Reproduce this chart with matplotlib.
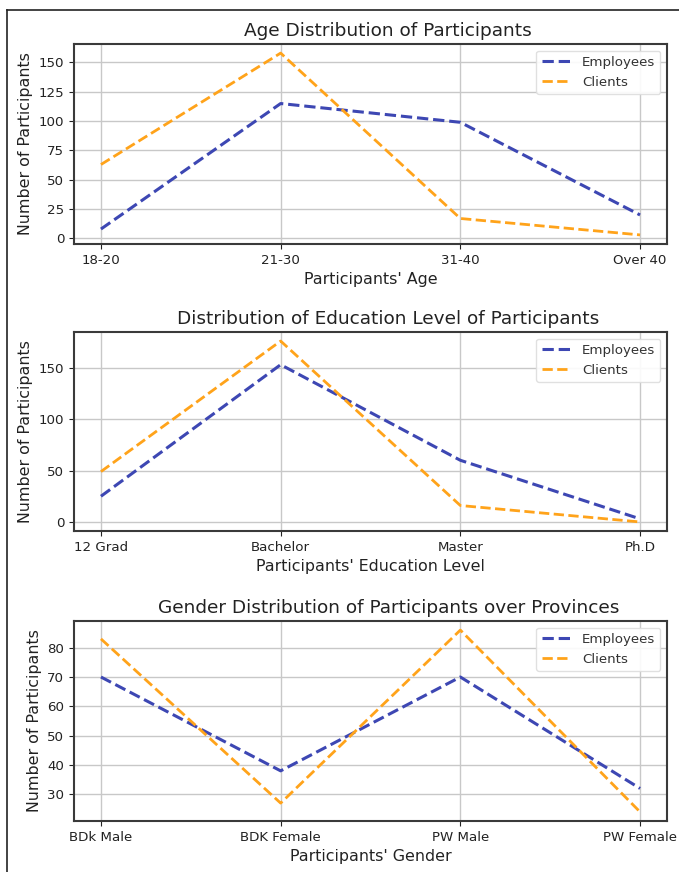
import matplotlib
matplotlib.use("Agg")
import matplotlib.pyplot as plt
from matplotlib.lines import Line2D

age_groups = ["18-20", "21-30", "31-40", "Over 40"]
age_employees = [8, 115, 99, 20]
age_clients = [63, 158, 17, 3]

edu_levels = ["12 Grad", "Bachelor", "Master", "Ph.D"]
edu_employees = [25, 153, 60, 3]
edu_clients = [49, 176, 16, 0]

gender_groups = ["BDk Male", "BDK Female", "PW Male", "PW Female"]
gender_employees = [70, 38, 70, 32]
gender_clients = [83, 27, 86, 24]

titles = ["Age Distribution of Participants",
          "Distribution of Education Level of Participants",
          "Gender Distribution of Participants over Provinces"]
xlabels = ["Participants' Age", "Participants' Education Level", "Participants' Gender"]
ylabel = "Number of Participants"

emp_color = "#3d47b3"
cli_color = "#ffa31a"

fig = plt.figure(figsize=(6.79, 8.72), dpi=100)
W, H = 679, 872

def ax_rect(top, bottom, left=74, right=667):
    return [left / W, 1 - bottom / H, (right - left) / W, (bottom - top) / H]

rects = [ax_rect(44, 244), ax_rect(332, 531), ax_rect(621, 821)]
datasets = [(age_groups, age_employees, age_clients),
            (edu_levels, edu_employees, edu_clients),
            (gender_groups, gender_employees, gender_clients)]
yticks = [[0, 25, 50, 75, 100, 125, 150], [0, 50, 100, 150], [30, 40, 50, 60, 70, 80]]

for i, (rect, (cats, emp, cli)) in enumerate(zip(rects, datasets)):
    ax = fig.add_axes(rect)
    ax.plot(cats, emp, linestyle="--", color=emp_color, linewidth=2.2, label="Employees")
    ax.plot(cats, cli, linestyle="--", color=cli_color, linewidth=2.0, label="Clients")
    ax.set_title(titles[i], fontsize=13.3, color="#222222", pad=6, x=0.53)
    ax.set_xlabel(xlabels[i], fontsize=11.4, color="#222222", labelpad=4)
    ax.set_ylabel(ylabel, fontsize=11.4, color="#222222")
    ax.set_yticks(yticks[i])
    ax.grid(True, color="#c8c8c8", linewidth=1.0)
    ax.set_axisbelow(True)
    for s in ax.spines.values():
        s.set_color("#3a3a3a")
        s.set_linewidth(1.5)
    ax.tick_params(labelsize=9.6, colors="#222222")
    leg = ax.legend(loc="upper right", fontsize=9.6, framealpha=0.9,
                    edgecolor="#dddddd", handlelength=2.2)
    for t in leg.get_texts():
        t.set_color("#333333")

# frame lines of the original screenshot
top_y = 1 - 10 / H
left_x = 7 / W
fig.add_artist(Line2D([left_x, 1], [top_y, top_y], transform=fig.transFigure,
                      color="#222222", linewidth=1.2))
fig.add_artist(Line2D([left_x, left_x], [0, top_y], transform=fig.transFigure,
                      color="#222222", linewidth=1.2))

fig.savefig("out.png", dpi=100)
